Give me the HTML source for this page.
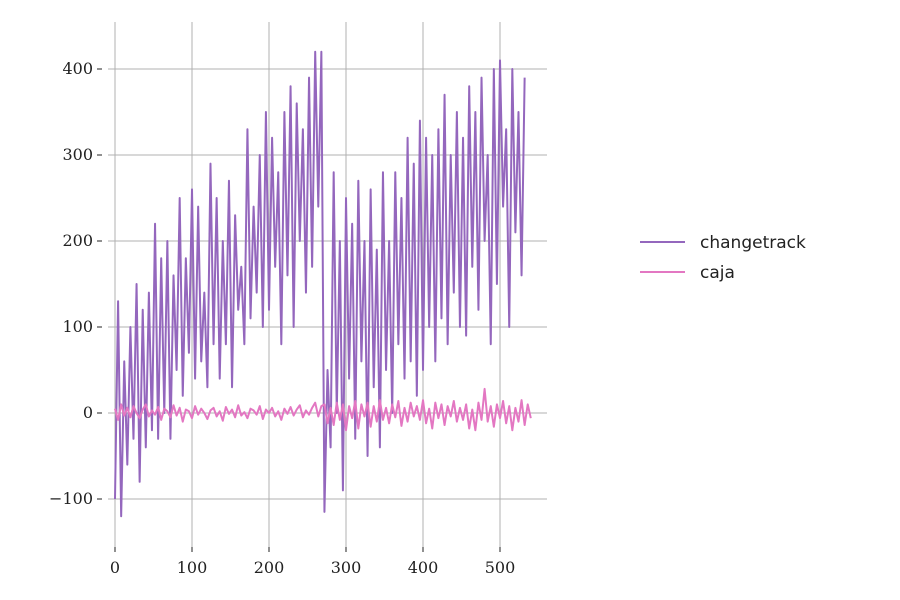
<!DOCTYPE html>
<html><head><meta charset="utf-8"><style>
body{margin:0;background:#fff}
svg{display:block}
.tk{font-family:"DejaVu Serif","Liberation Serif",serif;font-size:16px;fill:#222}
.lg{font-family:"DejaVu Sans","Liberation Sans",sans-serif;font-size:17px;fill:#222}
</style></head><body>
<svg id="chart" width="900" height="600">
<g id="grid"></g>
<g id="series"></g>
<g id="axes"></g>
<g>
<line x1="640" y1="242" x2="685" y2="242" stroke="#9467bd" stroke-width="2"/>
<text class="lg" x="700" y="248">changetrack</text>
<line x1="640" y1="272" x2="685" y2="272" stroke="#e377c2" stroke-width="2"/>
<text class="lg" x="700" y="278">caja</text>
</g>
</svg>
<script>
const xStep = 4;
const changetrack = [-100,130,-120,60,-60,100,-30,150,-80,120,-40,140,-20,220,-30,180,0,200,-30,160,50,250,20,180,70,260,40,240,60,140,30,290,80,250,40,200,80,270,30,230,120,170,80,330,110,240,140,300,100,350,120,320,170,280,80,350,160,380,100,360,200,330,140,390,170,420,240,420,-115,50,-40,280,0,200,-90,250,40,220,-30,270,60,200,-50,260,30,190,-40,280,50,200,0,280,80,250,40,320,60,290,20,340,50,320,100,300,60,330,110,370,80,300,140,350,100,320,90,380,170,350,120,390,200,300,80,400,150,410,240,330,100,400,210,350,160,390];
const caja = [5,-8,10,-3,6,-5,8,0,-6,4,10,-4,3,-2,7,-8,5,2,-5,9,-3,6,-10,4,2,-6,8,-2,5,0,-7,3,6,-4,2,-9,7,-1,4,-5,9,-3,1,-6,5,3,-2,8,-7,4,0,6,-4,2,-8,5,-1,7,-3,4,9,-5,3,-2,6,12,-4,8,10,-12,6,-14,12,-8,10,-20,8,-6,14,-18,10,-4,12,-16,8,-10,15,-8,6,-12,10,-5,14,-15,6,-10,12,-4,8,-8,15,-12,5,-18,12,-6,10,-14,8,-4,14,-10,6,-8,10,-18,4,-20,12,-8,28,-10,8,-16,10,-6,14,-12,8,-20,6,-10,15,-14,10,-6];
const xTicks = [0,100,200,300,400,500];
const yTicks = [-100,0,100,200,300,400];
const NS="http://www.w3.org/2000/svg";
const X = v => 115 + v*0.77;
const Y = v => 413 - v*0.86;
const grid=document.getElementById('grid'), axes=document.getElementById('axes'), ser=document.getElementById('series');
function mk(tag,attrs,parent){const e=document.createElementNS(NS,tag);for(const k in attrs)e.setAttribute(k,attrs[k]);parent.appendChild(e);return e;}
xTicks.forEach(t=>{
  const l=mk('line',{x1:X(t),x2:X(t),y1:22,y2:547,stroke:'#b0b0b0','stroke-width':1},grid);
  
  
  mk('line',{x1:X(t),x2:X(t),y1:547,y2:552,stroke:'#222'},axes);
  const tx=mk('text',{x:X(t),y:573,'text-anchor':'middle',class:'tk'},axes);
  tx.textContent=t;
  
  
});
yTicks.forEach(t=>{
  const l=mk('line',{x1:108,x2:547,y1:Y(t),y2:Y(t),stroke:'#b0b0b0','stroke-width':1},grid);
  
  
  mk('line',{x1:97,x2:102,y1:Y(t),y2:Y(t),stroke:'#222'},axes);
  const tx=mk('text',{x:93,y:Y(t)+5,'text-anchor':'end',class:'tk'},axes);
  tx.textContent=t<0?'\u2212'+Math.abs(t):t;
  
  
});
function line(data,color,name){
  const p=mk('polyline',{points:data.map((v,i)=>X(i*xStep)+','+Y(v)).join(' '),fill:'none',stroke:color,'stroke-width':2,'stroke-linejoin':'round'},ser);
  
  
}
line(changetrack,'#9467bd','changetrack-line');
line(caja,'#e377c2','caja-line');
</script>
</body></html>
